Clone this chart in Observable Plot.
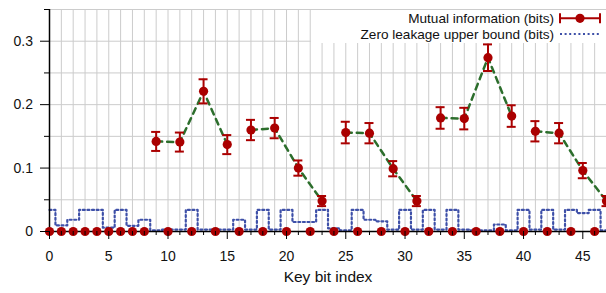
<!DOCTYPE html>
<html><head><meta charset="utf-8">
<script src="https://cdn.jsdelivr.net/npm/d3@7"></script>
<script src="https://cdn.jsdelivr.net/npm/@observablehq/plot@0.6"></script>
<style>
body{margin:0;background:#fff;}
#wrap{position:relative;width:606px;height:293px;font-family:"Liberation Sans",Arial,sans-serif;}
#legend{position:absolute;left:311px;top:10px;width:295px;height:33px;background:#fff;}
</style></head><body><div id="wrap"></div>
<script>
const keyBit = [0,1,2,3,4,5,6,7,8,9,10,11,12,13,14,15,16,17,18,19,20,21,22,23,24,25,26,27,28,29,30,31,32,33,34,35,36,37,38,39,40,41,42,43,44,45,46,47];
const mutualInfo = [0,0,0,0,0,0,0,0,0,0.142,0,0.141,0,0.221,0,0.137,0,0.160,0,0.163,0,0.100,0,0.048,0,0.156,0,0.155,0,0.099,0,0.048,0,0.179,0,0.178,0,0.274,0,0.182,0,0.158,0,0.155,0,0.096,0,0.048];
const mutualErr = [0,0,0,0,0,0,0,0,0,0.015,0,0.015,0,0.019,0,0.015,0,0.016,0,0.016,0,0.012,0,0.008,0,0.017,0,0.016,0,0.012,0,0.008,0,0.017,0,0.017,0,0.021,0,0.017,0,0.016,0,0.016,0,0.012,0,0.008];
const upperBound = [0.034,0.0095,0.0185,0.034,0.034,0.006,0.034,0.009,0.0185,0.002,0.003,0.003,0.034,0.003,0.003,0.003,0.0185,0.003,0.034,0.003,0.034,0.015,0.015,0.034,0.005,0.002,0.034,0.0185,0.016,0.003,0.034,0.003,0.034,0.003,0.034,0.003,0.002,0.002,0.011,0.002,0.034,0.003,0.034,0.003,0.034,0.029,0.034,0.002];
const trendSegments = [[9,11,13,15],[17,19,21,23],[25,27,29,31],[33,35,37,39],[41,43,45,47]];
const xMajorTicks = [0,5,10,15,20,25,30,35,40,45];
const yMajorTicks = [0,0.1,0.2,0.3];
const yMinorTicks = [0.05,0.15,0.25,0.35];
const xLabel = "Key bit index";
const legendLabels = ["Mutual information (bits)", "Zero leakage upper bound (bits)"];

const xMax = 47, yMax = 0.35;
const red = "#aa0000", green = "#2c6e2c", blue = "#3e50a8";
const dotted = "2,2.6";

const rows = keyBit.map((k, i) => ({k, v: mutualInfo[i], e: mutualErr[i]}));
const errRows = rows.filter(d => d.e > 0);
const trend = trendSegments.flatMap((seg, g) => seg.map(k => ({k, v: mutualInfo[k], g})));
const steps = keyBit.flatMap((k, i) => [
  {x: Math.max(k - 0.5, 0), y: upperBound[i]},
  {x: Math.min(k + 0.5, xMax), y: upperBound[i]}
]);
const xMinorTicks = keyBit.filter(k => !xMajorTicks.includes(k));
const xGrid = keyBit.filter(k => k > 0);
const yGrid = [...yMajorTicks, ...yMinorTicks].filter(v => v > 0);
const capHalf = 0.38;

const chart = Plot.plot({
  width: 606, height: 293,
  marginLeft: 49, marginRight: 0, marginTop: 9, marginBottom: 62,
  x: {domain: [0, xMax]},
  y: {domain: [0, yMax]},
  style: {fontFamily: '"Liberation Sans", Arial, sans-serif', fontSize: "14px", color: "#111", background: "#fff"},
  marks: [
    Plot.ruleX(xGrid, {stroke: "#cccccc", strokeWidth: 1}),
    Plot.ruleY(yGrid, {stroke: "#cccccc", strokeWidth: 1}),
    Plot.line(steps, {x: "x", y: "y", stroke: blue, strokeWidth: 2.2, strokeDasharray: dotted}),
    Plot.line(trend, {x: "k", y: "v", z: "g", stroke: green, strokeWidth: 2.5, strokeDasharray: "6,5"}),
    Plot.ruleX(errRows, {x: "k", y1: d => d.v - d.e, y2: d => d.v + d.e, stroke: red, strokeWidth: 2}),
    Plot.ruleY(errRows, {x1: d => d.k - capHalf, x2: d => d.k + capHalf, y: d => d.v + d.e, stroke: red, strokeWidth: 2}),
    Plot.ruleY(errRows, {x1: d => d.k - capHalf, x2: d => d.k + capHalf, y: d => d.v - d.e, stroke: red, strokeWidth: 2}),
    Plot.ruleX([0], {stroke: "#000", strokeWidth: 1.5}),
    Plot.ruleY([0], {stroke: "#000", strokeWidth: 1.5}),
    Plot.dot(rows, {x: "k", y: "v", r: 4.6, fill: red, stroke: "none"}),
    Plot.axisY({ticks: yMajorTicks, tickSize: 9, tickPadding: 7.5, tickFormat: d => d === 0 ? "0" : d.toFixed(1), label: null, stroke: "#000", fill: "#111"}),
    Plot.axisY({ticks: yMinorTicks, tickSize: 5, tickFormat: () => "", label: null, stroke: "#000"}),
    Plot.axisX({ticks: xMajorTicks, tickSize: 8, tickPadding: 12, tickFormat: d => String(d), label: null, stroke: "#000", fill: "#111"}),
    Plot.axisX({ticks: xMinorTicks, tickSize: 4, tickFormat: () => "", label: null, stroke: "#000"}),
    Plot.text([xLabel], {text: d => d, frameAnchor: "bottom", dy: 50.5, fontSize: 15.5, fill: "#111"})
  ]
});

const wrap = document.getElementById("wrap");
wrap.appendChild(chart);

const legend = document.createElement("div");
legend.id = "legend";
const ns = "http://www.w3.org/2000/svg";
const svg = document.createElementNS(ns, "svg");
svg.setAttribute("width", 295); svg.setAttribute("height", 33);
function el(tag, attrs) { const e = document.createElementNS(ns, tag); for (const k in attrs) e.setAttribute(k, attrs[k]); svg.appendChild(e); return e; }
const rowsY = [8.3, 24];
legendLabels.forEach((lab, i) => {
  const t = el("text", {x: 243, y: rowsY[i] + 4.8, "text-anchor": "end", "font-size": "13.6px", fill: "#111", "font-family": '"Liberation Sans", Arial, sans-serif'});
  t.textContent = lab;
});
el("line", {x1: 249, x2: 289, y1: rowsY[0], y2: rowsY[0], stroke: red, "stroke-width": 2});
el("line", {x1: 249, x2: 249, y1: rowsY[0] - 5, y2: rowsY[0] + 5, stroke: red, "stroke-width": 2});
el("line", {x1: 289, x2: 289, y1: rowsY[0] - 5, y2: rowsY[0] + 5, stroke: red, "stroke-width": 2});
el("circle", {cx: 269, cy: rowsY[0], r: 4.6, fill: red});
el("line", {x1: 249, x2: 289, y1: rowsY[1], y2: rowsY[1], stroke: blue, "stroke-width": 2.2, "stroke-dasharray": dotted});
legend.appendChild(svg);
wrap.appendChild(legend);
</script>
</body></html>
